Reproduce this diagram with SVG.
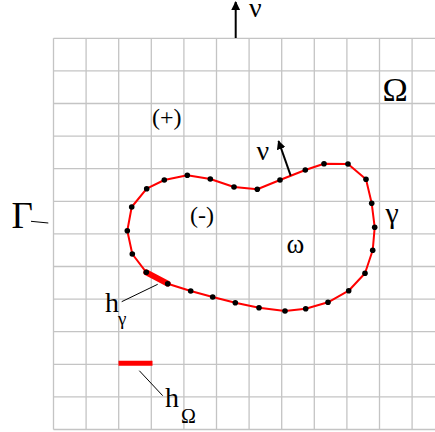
<svg xmlns="http://www.w3.org/2000/svg" width="435" height="432" viewBox="0 0 435 432">
<style>
.grid line{stroke:#c4c4c4;stroke-width:1.3}
.t{font-family:"Liberation Serif","Times New Roman",serif;fill:#000}
.curve{fill:none;stroke:#ff0000;stroke-width:2;stroke-linejoin:round}
.dot{fill:#000}
.lead{stroke:#000;stroke-width:1;fill:none}
.arr{stroke:#000;stroke-width:2;fill:none}
</style>
<defs>
<marker id="ah" viewBox="0 0 10 10" refX="9" refY="5" markerWidth="4.5" markerHeight="4.5" markerUnits="strokeWidth" orient="auto">
<path d="M0,0 L10,5 L0,10 Z" fill="#000"/>
</marker>
</defs>
<rect width="435" height="432" fill="#fff"/>
<g id="grid" class="grid">
<line x1="53.5" y1="38.3" x2="53.5" y2="429.5"/>
<line x1="86.1" y1="38.3" x2="86.1" y2="429.5"/>
<line x1="118.7" y1="38.3" x2="118.7" y2="429.5"/>
<line x1="151.3" y1="38.3" x2="151.3" y2="429.5"/>
<line x1="183.9" y1="38.3" x2="183.9" y2="429.5"/>
<line x1="216.5" y1="38.3" x2="216.5" y2="429.5"/>
<line x1="249.1" y1="38.3" x2="249.1" y2="429.5"/>
<line x1="281.7" y1="38.3" x2="281.7" y2="429.5"/>
<line x1="314.3" y1="38.3" x2="314.3" y2="429.5"/>
<line x1="346.9" y1="38.3" x2="346.9" y2="429.5"/>
<line x1="379.5" y1="38.3" x2="379.5" y2="429.5"/>
<line x1="412.1" y1="38.3" x2="412.1" y2="429.5"/>
<line x1="53.5" y1="38.3" x2="435" y2="38.3"/>
<line x1="53.5" y1="70.9" x2="435" y2="70.9"/>
<line x1="53.5" y1="103.5" x2="435" y2="103.5"/>
<line x1="53.5" y1="136.1" x2="435" y2="136.1"/>
<line x1="53.5" y1="168.7" x2="435" y2="168.7"/>
<line x1="53.5" y1="201.3" x2="435" y2="201.3"/>
<line x1="53.5" y1="233.9" x2="435" y2="233.9"/>
<line x1="53.5" y1="266.5" x2="435" y2="266.5"/>
<line x1="53.5" y1="299.1" x2="435" y2="299.1"/>
<line x1="53.5" y1="331.7" x2="435" y2="331.7"/>
<line x1="53.5" y1="364.3" x2="435" y2="364.3"/>
<line x1="53.5" y1="396.9" x2="435" y2="396.9"/>
<line x1="53.5" y1="429.5" x2="435" y2="429.5"/>
</g>
<g id="gamma-curve">
<polygon class="curve" points="131.7,207 146.7,188.7 164.3,180 187.3,175.3 210.3,179 234,187 257.3,189.3 280,180 305.3,170 324,163.7 348,164 366,179.3 371.7,203.3 374.7,227.3 372.7,250.3 365,273.3 348.7,290.7 328,302.3 305.7,308.7 285,311 259,307.7 235.3,302.7 212.7,297 190.7,291 167.7,283.7 146.3,272.3 132.3,254 127.3,230.7"/>
<line x1="146.3" y1="272.3" x2="167.7" y2="283.7" stroke="#ff0000" stroke-width="6" stroke-linecap="round"/>
<g class="dot">
<circle cx="131.7" cy="207" r="2.8"/><circle cx="146.7" cy="188.7" r="2.8"/><circle cx="164.3" cy="180" r="2.8"/><circle cx="187.3" cy="175.3" r="2.8"/><circle cx="210.3" cy="179" r="2.8"/><circle cx="234" cy="187" r="2.8"/><circle cx="257.3" cy="189.3" r="2.8"/><circle cx="280" cy="180" r="2.8"/><circle cx="305.3" cy="170" r="2.8"/><circle cx="324" cy="163.7" r="2.8"/><circle cx="348" cy="164" r="2.8"/><circle cx="366" cy="179.3" r="2.8"/><circle cx="371.7" cy="203.3" r="2.8"/><circle cx="374.7" cy="227.3" r="2.8"/><circle cx="372.7" cy="250.3" r="2.8"/><circle cx="365" cy="273.3" r="2.8"/><circle cx="348.7" cy="290.7" r="2.8"/><circle cx="328" cy="302.3" r="2.8"/><circle cx="305.7" cy="308.7" r="2.8"/><circle cx="285" cy="311" r="2.8"/><circle cx="259" cy="307.7" r="2.8"/><circle cx="235.3" cy="302.7" r="2.8"/><circle cx="212.7" cy="297" r="2.8"/><circle cx="190.7" cy="291" r="2.8"/><circle cx="167.7" cy="283.7" r="2.8"/><circle cx="146.3" cy="272.3" r="2.8"/><circle cx="132.3" cy="254" r="2.8"/><circle cx="127.3" cy="230.7" r="2.8"/>
</g>
</g>
<g id="h-omega-bar">
<line x1="118.5" y1="363.3" x2="152.5" y2="363.3" stroke="#ff0000" stroke-width="5"/>
</g>
<g id="connectors">
<line class="arr" x1="235.7" y1="38" x2="235.7" y2="2" marker-end="url(#ah)"/>
<line class="arr" x1="290.7" y1="175.7" x2="278.5" y2="141" marker-end="url(#ah)"/>
<line class="lead" x1="31" y1="221.3" x2="48.3" y2="223"/>
<line class="lead" x1="121.7" y1="301.7" x2="157.7" y2="284.3"/>
<line class="lead" x1="139.3" y1="370.7" x2="162.7" y2="395.7"/>
</g>
<g id="labels">
<text class="t" x="249" y="17.3" font-size="28">ν</text>
<text class="t" x="382.5" y="101" font-size="34">Ω</text>
<text class="t" x="152" y="124.5" font-size="24">(+)</text>
<text class="t" x="190" y="222.5" font-size="24">(-)</text>
<text class="t" x="256.5" y="160" font-size="28">ν</text>
<text class="t" x="11.5" y="228.3" font-size="37">Γ</text>
<text class="t" x="385.5" y="223" font-size="30">γ</text>
<text class="t" x="286.5" y="253.3" font-size="27">ω</text>
<text class="t" x="105" y="312.3" font-size="28">h</text>
<text class="t" x="118" y="324.5" font-size="19">γ</text>
<text class="t" x="165" y="407.3" font-size="28">h</text>
<text class="t" x="181" y="422.7" font-size="20">Ω</text>
</g>
</svg>
